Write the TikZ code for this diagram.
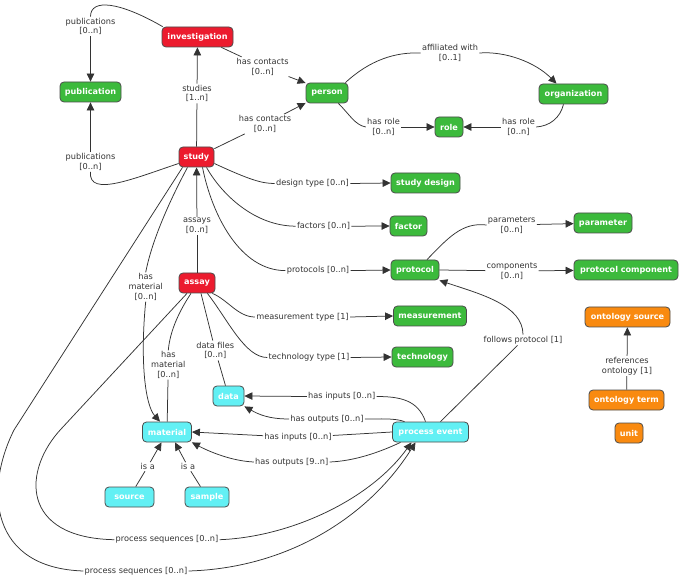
\documentclass[tikz,border=0pt]{standalone}
\usepackage{fontspec}
\setmainfont{DejaVu Sans}
\usetikzlibrary{arrows.meta}
\definecolor{cred}{HTML}{EC1B2E}
\definecolor{cgreen}{HTML}{3CBA3C}
\definecolor{ccyan}{HTML}{62F0F4}
\definecolor{corange}{HTML}{F98A10}
\definecolor{cline}{HTML}{333333}
\definecolor{ctext}{HTML}{333333}
\tikzset{
  box/.style={draw=black!70, line width=0.8pt, rounded corners=4pt, minimum height=20pt,
    inner sep=0pt, text=white, font=\fontsize{8.1}{9}\selectfont\bfseries},
  redbox/.style={box, fill=cred},
  greenbox/.style={box, fill=cgreen},
  cyanbox/.style={box, fill=ccyan},
  orangebox/.style={box, fill=corange},
  lbl/.style={text=ctext, font=\fontsize{8.2}{9.6}\selectfont, align=center, inner sep=1.2pt},
  conn/.style={draw=cline, line width=0.75pt},
  arr/.style={conn, -{Triangle[length=8pt,width=7.5pt]}},
}
\begin{document}
\begin{tikzpicture}[x=1pt,y=-1pt]
\useasboundingbox (0,0) rectangle (680,577);
\fill[white] (0,0) rectangle (680,577);
% nodes
\node[redbox, minimum width=71] (inv) at (197.5,37) {investigation};
\node[greenbox, minimum width=61] (pub) at (90.5,92) {publication};
\node[redbox, minimum width=35] (study) at (196.5,157) {study};
\node[greenbox, minimum width=42] (person) at (327,93) {person};
\node[greenbox, minimum width=69] (org) at (573.5,94) {organization};
\node[greenbox, minimum width=28] (role) at (449,127) {role};
\node[greenbox, minimum width=69] (sdesign) at (425.5,183) {study design};
\node[greenbox, minimum width=37] (factor) at (408.5,226) {factor};
\node[greenbox, minimum width=48] (protocol) at (415,270) {protocol};
\node[greenbox, minimum width=58] (parameter) at (603,223) {parameter};
\node[greenbox, minimum width=104] (pcomp) at (626,270) {protocol component};
\node[redbox, minimum width=36] (assay) at (197,283) {assay};
\node[greenbox, minimum width=73] (meas) at (430,316) {measurement};
\node[greenbox, minimum width=61] (tech) at (422.5,357) {technology};
\node[cyanbox, minimum width=31] (data) at (228.5,396) {data};
\node[cyanbox, minimum width=49] (material) at (167,432) {material};
\node[cyanbox, minimum width=76] (pevent) at (430.5,432) {process event};
\node[cyanbox, minimum width=49] (source) at (129.5,497) {source};
\node[cyanbox, minimum width=44] (sample) at (207,497) {sample};
\node[orangebox, minimum width=85] (osource) at (627.5,317) {ontology source};
\node[orangebox, minimum width=75] (oterm) at (626.5,400) {ontology term};
\node[orangebox, minimum width=28] (unit) at (629,433) {unit};
% labels
\node[lbl] (L1) at (90.5,26.5) {publications\\{}[0..n]};
\node[lbl] (L2) at (197,93.5) {studies\\{}[1..n]};
\node[lbl] (L3) at (262.7,66.7) {has contacts\\{}[0..n]};
\node[lbl] (L4) at (265,124) {has contacts\\{}[0..n]};
\node[lbl] (L5) at (90.5,162) {publications\\{}[0..n]};
\node[lbl] (L6) at (450,53) {affiliated with\\{}[0..1]};
\node[lbl] (L7) at (383.5,127) {has role\\{}[0..n]};
\node[lbl] (L8) at (518.5,127) {has role\\{}[0..n]};
\node[lbl] (L9) at (312.5,183.5) {design type [0..n]};
\node[lbl] (L10) at (323.5,226.2) {factors [0..n]};
\node[lbl] (L11) at (318,270.6) {protocols [0..n]};
\node[lbl] (L12) at (197,226) {assays\\{}[0..n]};
\node[lbl] (L13) at (511.7,225) {parameters\\{}[0..n]};
\node[lbl] (L14) at (512,271) {components\\{}[0..n]};
\node[lbl] (L15) at (523,340) {follows protocol [1]};
\node[lbl] (L16) at (302.5,317) {measurement type [1]};
\node[lbl] (L17) at (309,357.5) {technology type [1]};
\node[lbl] (L18) at (215.3,350.5) {data files\\{}[0..n]};
\node[lbl] (L19) at (168.3,365) {has\\material\\{}[0..n]};
\node[lbl] (L20) at (145.7,287) {has\\material\\{}[0..n]};
\node[lbl] (L21) at (136,571) {process sequences [0..n]};
\node[lbl] (L22) at (167,539.7) {process sequences [0..n]};
\node[lbl] (L23) at (341.7,396.5) {has inputs [0..n]};
\node[lbl] (L24) at (327,419) {has outputs [0..n]};
\node[lbl] (L25) at (298,437.5) {has inputs [0..n]};
\node[lbl] (L26) at (291.7,462) {has outputs [9..n]};
\node[lbl] (L27) at (147.7,466.7) {is a};
\node[lbl] (L28) at (188,466.7) {is a};
\node[lbl] (L29) at (627,366) {references\\ontology [1]};
% connectors
\draw[conn] ([xshift=1pt]inv.north west) .. controls (120,2) and (90.5,-2) .. (L1.north);
\draw[arr] (L1) -- (pub);
\draw[conn] (study) -- (L2);
\draw[arr] (L2) -- (inv);
\draw[conn] ([xshift=-12pt]inv.south east) -- (L3);
\draw[arr] (L3) -- (person.155);
\draw[conn] (study.25) -- (L4);
\draw[arr] (L4) -- (person.205);
\draw[conn] (study.200) .. controls (135,178) and (88,198) .. (L5.south);
\draw[arr] (L5) -- (pub);
\draw[conn] ([xshift=-3pt]person.north east) .. controls (370,60) and (395,52) .. (L6.west);
\draw[arr] (L6.east) .. controls (505,51) and (535,62) .. ([xshift=-17pt]org.north);
\draw[conn] ([xshift=-10pt]person.south east) .. controls (350,115) and (355,125) .. (L7.west);
\draw[arr] (L7.east) -- (role.west);
\draw[conn] ([xshift=-10pt]org.south) .. controls (560,118) and (550,126) .. (L8.east);
\draw[arr] (L8.west) -- (role.east);
\draw[conn] (study.-20) .. controls (250,180) and (262,183.5) .. (L9.west);
\draw[arr] (L9.east) -- (sdesign.west);
\draw[conn] ([xshift=10pt]study.south) .. controls (222,195) and (255,226) .. (L10.west);
\draw[arr] (L10.east) -- (factor.west);
\draw[conn] ([xshift=6pt]study.south) .. controls (212,215) and (240,270.6) .. (L11.west);
\draw[arr] (L11.east) -- (protocol.west);
\draw[conn] (assay) -- (L12);
\draw[arr] (L12) -- (study);
\draw[conn] ([xshift=12pt]protocol.north) .. controls (448,238) and (462,222) .. (L13.west);
\draw[arr] (L13) -- (parameter);
\draw[conn] (protocol.east) -- (L14);
\draw[arr] (L14) -- (pcomp);
\draw[conn] ([xshift=10pt]pevent.north) -- (L15);
\draw[arr] (L15.north) .. controls (523,305) and (480,294) .. (protocol.south east);
\draw[conn] ([xshift=-3pt]assay.south east) .. controls (228,300) and (238,317) .. (L16.west);
\draw[arr] (L16.east) -- (meas.west);
\draw[conn] ([xshift=-8pt]assay.south east) .. controls (228,320) and (245,357.5) .. (L17.west);
\draw[arr] (L17.east) -- (tech.west);
\draw[conn] ([xshift=4pt]assay.south) -- (L18);
\draw[conn] (L18) -- (data);
\draw[conn] ([xshift=-6pt]assay.south) .. controls (180,310) and (170,330) .. (L19.north);
\draw[conn] (L19) -- (material);
\draw[conn] ([xshift=-9pt]study.south) .. controls (170,200) and (152,240) .. (L20.north);
\draw[arr] (L20.south) .. controls (140,360) and (145,405) .. ([xshift=-7pt]material.north);
\draw[conn] ([xshift=-14pt]study.south) -- (14,430) .. controls (-16,490) and (-10,568) .. (L21.west);
\draw[arr] (L21.east) .. controls (290,568) and (370,515) .. ([xshift=-15pt]pevent.south);
\draw[conn] ([xshift=-10pt]assay.south) -- (62,428) .. controls (22,470) and (20,538) .. (L22.west);
\draw[arr] (L22.east) .. controls (290,537) and (370,500) .. ([xshift=-19pt]pevent.south);
\draw[conn] ([xshift=-5pt]pevent.north) .. controls (418,400) and (400,396.5) .. (L23.east);
\draw[arr] (L23.west) -- (data.east);
\draw[conn] ([xshift=-26pt]pevent.north) .. controls (395,418) and (380,419) .. (L24.east);
\draw[arr] (L24.west) .. controls (268,419) and (258,414) .. (data.south east);
\draw[conn] (pevent.west) -- (L25);
\draw[arr] (L25) -- (material.east);
\draw[conn] ([xshift=-30pt]pevent.south) .. controls (380,452) and (355,461) .. (L26.east);
\draw[arr] (L26.west) .. controls (232,461) and (210,452) .. (material.south east);
\draw[conn] (source) -- (L27);
\draw[arr] (L27) -- ([xshift=-5.5pt]material.south);
\draw[conn] (sample) -- (L28);
\draw[arr] (L28) -- ([xshift=8pt]material.south);
\draw[conn] (oterm) -- (L29);
\draw[arr] (L29) -- (osource);
\end{tikzpicture}
\end{document}
